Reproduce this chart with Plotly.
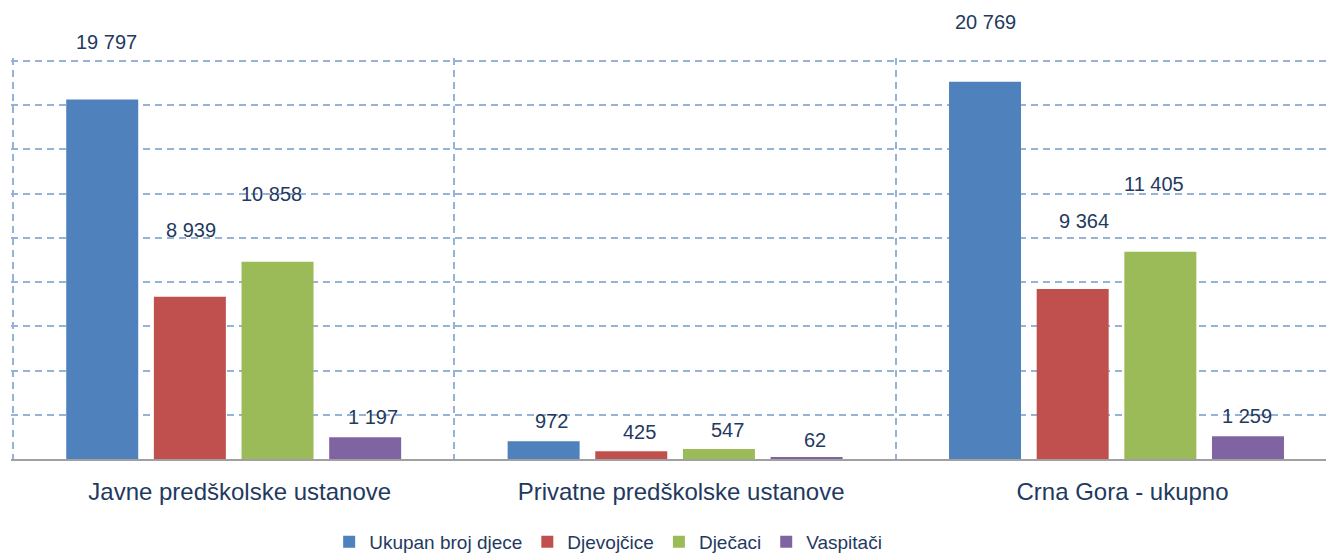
import plotly.graph_objects as go

# ---- data ----
categories = ["Javne predškolske ustanove", "Privatne predškolske ustanove", "Crna Gora - ukupno"]
series_names = ["Ukupan broj djece", "Djevojčice", "Dječaci", "Vaspitači"]
ukupan = [19797, 972, 20769]
djevojcice = [8939, 425, 9364]
djecaci = [10858, 547, 11405]
vaspitaci = [1197, 62, 1259]
series_values = [ukupan, djevojcice, djecaci, vaspitaci]

# ---- styles ----
colors = ["#4F81BD", "#C0504D", "#9BBB59", "#8064A2"]
text_color = "#1F3A60"
grid_color = "#95B3D7"
font_family = "Arial, 'Liberation Sans', sans-serif"

# label placement (pixels, relative to bar top / bar centre)
label_dy = [[57, 20, 60], [67, 19, 68], [68, 19, 68], [20, 18, 20]]
label_dx = [[4, 8, 1], [1, 8.5, 11], [-6.5, 8.5, -6.5], [7.5, 8.5, -1]]

W, H = 1326, 554
m_l, m_r, m_t, m_b = 10.7, 0, 58, 94.7
units_per_px = 55.02
grid_step = 2435
bargap, bargroupgap = 0.2057, 0.1787
cat_px_target = 441.5

plot_h = H - m_t - m_b
y_top = plot_h * units_per_px
x0 = -0.5 - (12.7 - m_l) / cat_px_target
x_range = [x0, x0 + (W - m_l - m_r) / cat_px_target]
cat_px = (W - m_l - m_r) / (x_range[1] - x_range[0])
slot_px = cat_px * (1 - bargap) / len(series_names)

fig = go.Figure()
for name, vals, col in zip(series_names, series_values, colors):
    fig.add_trace(go.Bar(x=categories, y=vals, name=name,
                         marker=dict(color=col, line=dict(width=0))))

annotations = []
for i, vals in enumerate(series_values):
    for j, v in enumerate(vals):
        annotations.append(dict(
            x=categories[j], y=v, xref="x", yref="y",
            text=f"{v:,}".replace(",", " "),
            showarrow=False, yanchor="middle", xanchor="center",
            xshift=(i - (len(series_names) - 1) / 2) * slot_px + label_dx[i][j],
            yshift=label_dy[i][j],
            font=dict(family=font_family, size=20, color=text_color)))

fig.update_layout(
    width=W, height=H,
    margin=dict(l=m_l, r=m_r, t=m_t, b=m_b, pad=0, autoexpand=False),
    paper_bgcolor="white", plot_bgcolor="white",
    barmode="group", bargap=bargap, bargroupgap=bargroupgap,
    font=dict(family=font_family, color=text_color),
    annotations=annotations,
    showlegend=True,
    legend=dict(orientation="h", x=(608 - m_l) / (W - m_l - m_r), xanchor="center",
                yref="container", y=1 - 542 / H, yanchor="middle",
                font=dict(size=19, color=text_color, family=font_family),
                itemwidth=30, tracegroupgap=0, bgcolor="rgba(0,0,0,0)"),
    xaxis=dict(range=x_range, showline=True, linecolor="#A0A0A0", linewidth=2,
               tickson="boundaries", showgrid=True, gridcolor=grid_color,
               gridwidth=1.5, griddash="7px,5px", ticks="", zeroline=False,
               tickfont=dict(size=24, color=text_color, family=font_family),
               ticklabelshift=6, ticklabelstandoff=10),
    yaxis=dict(range=[0, y_top], tick0=0, dtick=grid_step, showticklabels=False,
               showgrid=True, gridcolor=grid_color, gridwidth=1.5, griddash="7px,5px",
               zeroline=False, showline=False, ticks=""),
)

fig.write_html("out.html", config={"displayModeBar": False},
               post_script="document.body.style.margin='0';document.body.style.overflow='hidden';")
